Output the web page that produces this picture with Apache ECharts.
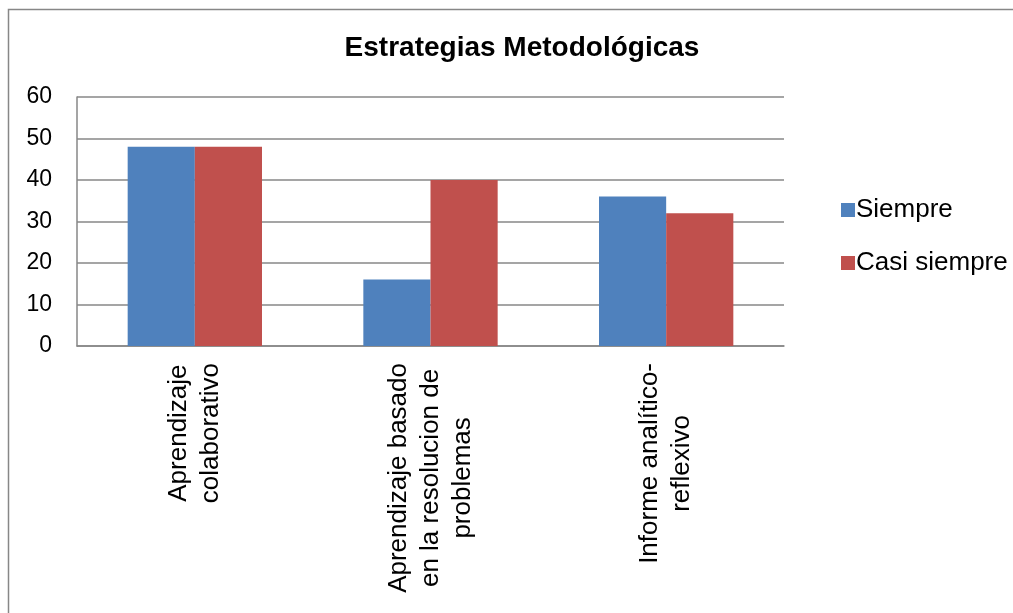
<!DOCTYPE html>
<html>
<head>
<meta charset="utf-8">
<script src="https://cdn.jsdelivr.net/npm/echarts@6/dist/echarts.min.js"></script>
<style>
html,body{margin:0;padding:0;background:#fff;}
#chart{width:1013px;height:613px;}
</style>
</head>
<body>
<div id="chart"></div>
<script>
const titleText = 'Estrategias Metodológicas';
const categories = [
  ['Aprendizaje', 'colaborativo'],
  ['Aprendizaje basado', 'en la resolucion de', 'problemas'],
  ['Informe analítico-', 'reflexivo']
];
const seriesNames = ['Siempre', 'Casi siempre'];
const siempre = [48, 16, 36];
const casiSiempre = [48, 40, 32];
const yTicks = [0, 10, 20, 30, 40, 50, 60];

const FONT = '"Liberation Sans", Arial, sans-serif';
const chart = echarts.init(document.getElementById('chart'), null, {renderer: 'canvas'});
chart.setOption({
  backgroundColor: '#fff',
  animation: false,
  graphic: [{
    type: 'rect', silent: true,
    shape: {x: 8.5, y: 9.5, width: 1020, height: 620},
    style: {fill: 'none', stroke: '#878787', lineWidth: 1.5}
  }],
  title: {
    text: titleText,
    left: 517, top: 29, textAlign: 'center',
    textStyle: {fontFamily: FONT, fontWeight: 'bold', fontSize: 28, color: '#000'}
  },
  legend: {
    orient: 'vertical',
    left: 836, top: 192,
    itemWidth: 14, itemHeight: 14, itemGap: 27,
    icon: 'rect',
    textStyle: {fontFamily: FONT, fontSize: 26, color: '#000', padding: [0, 0, 0, -4]},
    data: seriesNames
  },
  grid: {left: 77, right: 229, top: 97, bottom: 267, containLabel: false},
  xAxis: {
    type: 'category',
    data: categories.map(c => c.join('\n')),
    axisLine: {show: true, lineStyle: {color: '#878787', width: 1.5}},
    axisTick: {show: false},
    axisLabel: {
      rotate: 90, margin: 17, interval: 0,
      fontFamily: FONT, fontSize: 26, color: '#000', lineHeight: 32,
      formatter: v => v.split('\n').map(s => '{c|' + s + '}').join('\n'),
      rich: {c: {align: 'center', fontFamily: FONT, fontSize: 26, color: '#000', lineHeight: 32}}
    }
  },
  yAxis: {
    type: 'value', min: yTicks[0], max: yTicks[yTicks.length - 1], interval: 10,
    axisLine: {show: true, lineStyle: {color: '#878787', width: 1.5}},
    axisTick: {show: false},
    splitLine: {show: true, lineStyle: {color: '#878787', width: 1.5}},
    axisLabel: {margin: 25, fontFamily: FONT, fontSize: 23, color: '#000'}
  },
  series: [
    {name: seriesNames[0], type: 'bar', data: siempre, barGap: '0%', barCategoryGap: '43%',
     itemStyle: {color: '#4F81BD'}},
    {name: seriesNames[1], type: 'bar', data: casiSiempre, barGap: '0%', barCategoryGap: '43%',
     itemStyle: {color: '#C0504D'}}
  ]
});
</script>
</body>
</html>
